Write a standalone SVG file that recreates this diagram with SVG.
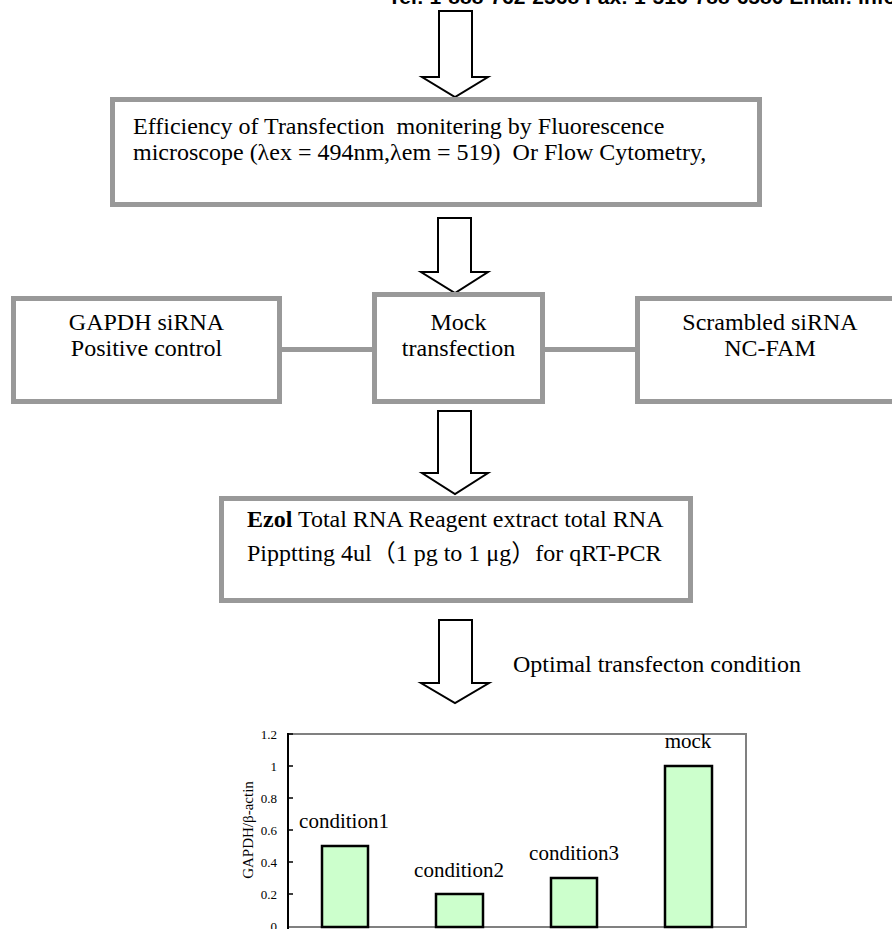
<svg xmlns="http://www.w3.org/2000/svg" width="892" height="929" viewBox="0 0 892 929">
<style>
.box{fill:#fff;stroke:#999;stroke-width:5}
.t{font-family:"Liberation Serif","Noto Sans CJK SC",serif;font-size:24px;fill:#000}
.c{text-anchor:middle}
.arrow{fill:#fff;stroke:#000;stroke-width:2;stroke-linejoin:miter}
.link{stroke:#999;stroke-width:5;fill:none}
.bar{fill:#ccffcc;stroke:#000;stroke-width:2.5}
.tick{font-family:"Liberation Serif",serif;font-size:13px;text-anchor:end}
.lab{font-family:"Liberation Serif",serif;font-size:21px;text-anchor:middle}
</style>
<rect width="892" height="929" fill="#fff"/>
<text x="388" y="4" font-family="Liberation Sans, Arial, sans-serif" font-weight="bold" font-size="21">Tel: 1-888-762-2568 Fax: 1-516-788-6580 Email: info@</text>

<g id="connectors">
<polygon class="arrow" points="439,11 472,11 472,77 488,77 455,97 422,77 439,77"/>
<polygon class="arrow" points="438,218 471,218 471,272 488,272 455,293 421,272 438,272"/>
<polygon class="arrow" points="438,411 471,411 471,473 488,473 455,494 422,473 438,473"/>
<polygon class="arrow" points="439,620 472,620 472,683 489,683 455,703 421,683 439,683"/>
<line class="link" x1="282" y1="349.5" x2="372" y2="349.5"/>
<line class="link" x1="545" y1="349.5" x2="635" y2="349.5"/>
</g>

<g id="box-efficiency">
<rect class="box" x="112.5" y="99.5" width="647" height="105"/>
<text class="t" x="133" y="134" xml:space="preserve">Efficiency of Transfection  monitering by Fluorescence</text>
<text class="t" x="133" y="160" xml:space="preserve">microscope (λex = 494nm,λem = 519)  Or Flow Cytometry,</text>
</g>

<g id="box-gapdh">
<rect class="box" x="13.5" y="298.5" width="266" height="103"/>
<text class="t c" x="146.5" y="330">GAPDH siRNA</text>
<text class="t c" x="146.5" y="356">Positive control</text>
</g>

<g id="box-mock">
<rect class="box" x="374.5" y="294.5" width="168" height="107"/>
<text class="t c" x="458.5" y="330">Mock</text>
<text class="t c" x="458.5" y="356">transfection</text>
</g>

<g id="box-scrambled">
<rect class="box" x="637.5" y="298.5" width="266" height="103"/>
<text class="t c" x="770" y="330">Scrambled siRNA</text>
<text class="t c" x="770" y="356">NC-FAM</text>
</g>

<g id="box-ezol">
<rect class="box" x="221.5" y="498.5" width="469" height="102"/>
<text class="t" x="247" y="527"><tspan font-weight="bold">Ezol</tspan> Total RNA Reagent extract total RNA</text>
<text class="t" x="247" y="561">Pipptting 4ul（1 pg to 1 μg）for qRT-PCR</text>
</g>

<g id="label-optimal">
<text class="t" x="513" y="672">Optimal transfecton condition</text>
</g>

<g id="chart">
<polyline points="287,734 746,734 746,927 287,927" fill="none" stroke="#808080" stroke-width="2"/>
<line x1="288" y1="733" x2="288" y2="929" stroke="#000" stroke-width="2"/>
<g stroke="#000" stroke-width="1.5">
<line x1="288" y1="734" x2="293" y2="734"/>
<line x1="288" y1="766" x2="293" y2="766"/>
<line x1="288" y1="798" x2="293" y2="798"/>
<line x1="288" y1="830" x2="293" y2="830"/>
<line x1="288" y1="862" x2="293" y2="862"/>
<line x1="288" y1="894" x2="293" y2="894"/>
</g>
<text class="tick" x="277" y="739">1.2</text>
<text class="tick" x="277" y="771">1</text>
<text class="tick" x="277" y="803">0.8</text>
<text class="tick" x="277" y="835">0.6</text>
<text class="tick" x="277" y="867">0.4</text>
<text class="tick" x="277" y="899">0.2</text>
<text class="tick" x="277" y="931">0</text>
<text transform="translate(253,830) rotate(-90)" font-family="Liberation Serif, serif" font-size="15" text-anchor="middle">GAPDH/β-actin</text>
<rect class="bar" x="322" y="846" width="46" height="81"/>
<rect class="bar" x="436" y="894" width="47" height="33"/>
<rect class="bar" x="551" y="878" width="46" height="49"/>
<rect class="bar" x="665" y="766" width="47" height="161"/>
<text class="lab" x="344" y="828">condition1</text>
<text class="lab" x="459" y="877">condition2</text>
<text class="lab" x="574" y="860">condition3</text>
<text class="lab" x="688" y="748">mock</text>
</g>
</svg>
